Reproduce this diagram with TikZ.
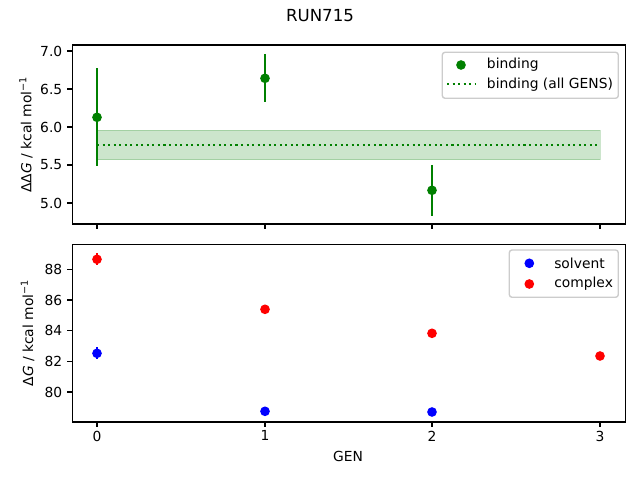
\documentclass[tikz,border=0pt]{standalone}
\usepackage{fontspec}
\setmainfont{DejaVu Sans}
\begin{document}
\begin{tikzpicture}[x=0.01in,y=-0.01in,
  ax/.style={draw=black,line width=0.8pt},
  tk/.style={line width=0.8pt},
  lbl/.style={font=\fontsize{10}{12}\selectfont,inner sep=0pt},
  ebar/.style={line width=1.5pt},
  dotline/.style={line width=1.5pt,dash pattern=on 1.5pt off 2.5pt},
  legbox/.style={draw=black!20,fill=white,fill opacity=0.8,rounded corners=2pt,line width=1pt}]
\definecolor{mgreen}{RGB}{0,128,0}
\definecolor{mblue}{RGB}{0,0,255}
\definecolor{mred}{RGB}{255,0,0}
\def\rr{3.5pt}
\useasboundingbox[fill=white] (0,0) rectangle (640,480);
% title
\node[font=\fontsize{12}{14}\selectfont,inner sep=0pt] (title) at (320,16) {RUN715};
% ---------- top axes ----------
\fill[mgreen,fill opacity=0.2,draw=mgreen,draw opacity=0.2] (97,130) rectangle (600,159.7);
\draw[mgreen,dotline] (97,144.7) -- (600,144.7);
% error bars
\draw[mgreen,ebar] (97,68.3) -- (97,165.7);
\draw[mgreen,ebar] (265,54) -- (265,101.7);
\draw[mgreen,ebar] (432,165) -- (432,215.7);
\fill[mgreen] (97,117.3) circle[radius=\rr];
\fill[mgreen] (265,78.3) circle[radius=\rr];
\fill[mgreen] (432,190.3) circle[radius=\rr];
\draw[ax] (72.3,45) rectangle (625.7,224);
% y ticks top
\foreach \v/\yy in {7.0/51,6.5/89,6.0/127,5.5/165,5.0/203}{
  \draw[tk] (72.3,\yy) -- (67.4,\yy);
  \node[lbl,anchor=east] at (62.5,\yy) {\v};
}
\foreach \xx in {97,265,432,600}{\draw[tk] (\xx,224) -- (\xx,228.9);}
\node[lbl,rotate=90,anchor=base] (ylt) at (31.5,134.5) {ΔΔ\textit{G} / kcal mol\textsuperscript{−1}};
% legend top
\draw[legbox] (442.3,52.3) rectangle (618.3,98.3);
\fill[mgreen] (461,65) circle[radius=\rr];
\draw[mgreen,dotline] (447,84.3) -- (475,84.3);
\node[lbl,anchor=west] (lg1) at (486.7,64.5) {binding};
\node[lbl,anchor=west] (lg2) at (486.7,84.3) {binding (all GENS)};
% ---------- bottom axes ----------
\draw[mred,ebar] (97,253.3) -- (97,265.3);
\draw[mblue,ebar] (97,347.3) -- (97,359.3);
\draw[mred,ebar] (265,305.5) -- (265,313.1);
\fill[mblue] (97,353.3) circle[radius=\rr];
\fill[mblue] (265,411.3) circle[radius=\rr];
\fill[mblue] (432,412) circle[radius=\rr];
\fill[mred] (97,259.3) circle[radius=\rr];
\fill[mred] (265,309.3) circle[radius=\rr];
\fill[mred] (432,333.3) circle[radius=\rr];
\fill[mred] (600,356) circle[radius=\rr];
\draw[ax] (72.3,244.3) rectangle (625.7,422);
\foreach \v/\yy in {88/269.3,86/300,84/330.7,82/361.3,80/392}{
  \draw[tk] (72.3,\yy) -- (67.4,\yy);
  \node[lbl,anchor=east] at (62.5,\yy) {\v};
}
\foreach \v/\xx in {0/97,1/265,2/432,3/600}{
  \draw[tk] (\xx,422) -- (\xx,426.9);
  \node[lbl,anchor=north] at (\xx,430.5) {\v};
}
\node[lbl,rotate=90,anchor=base] (ylb) at (33,333) {Δ\textit{G} / kcal mol\textsuperscript{−1}};
\node[lbl] (xl) at (348,456.7) {GEN};
% legend bottom
\draw[legbox] (509.3,250) rectangle (618.3,297.3);
\fill[mblue] (529.3,263.3) circle[radius=\rr];
\fill[mred] (529.3,284) circle[radius=\rr];
\node[lbl,anchor=west] (lb1) at (554,263.3) {solvent};
\node[lbl,anchor=west] (lb2) at (554,284) {complex};
\end{tikzpicture}
\end{document}
